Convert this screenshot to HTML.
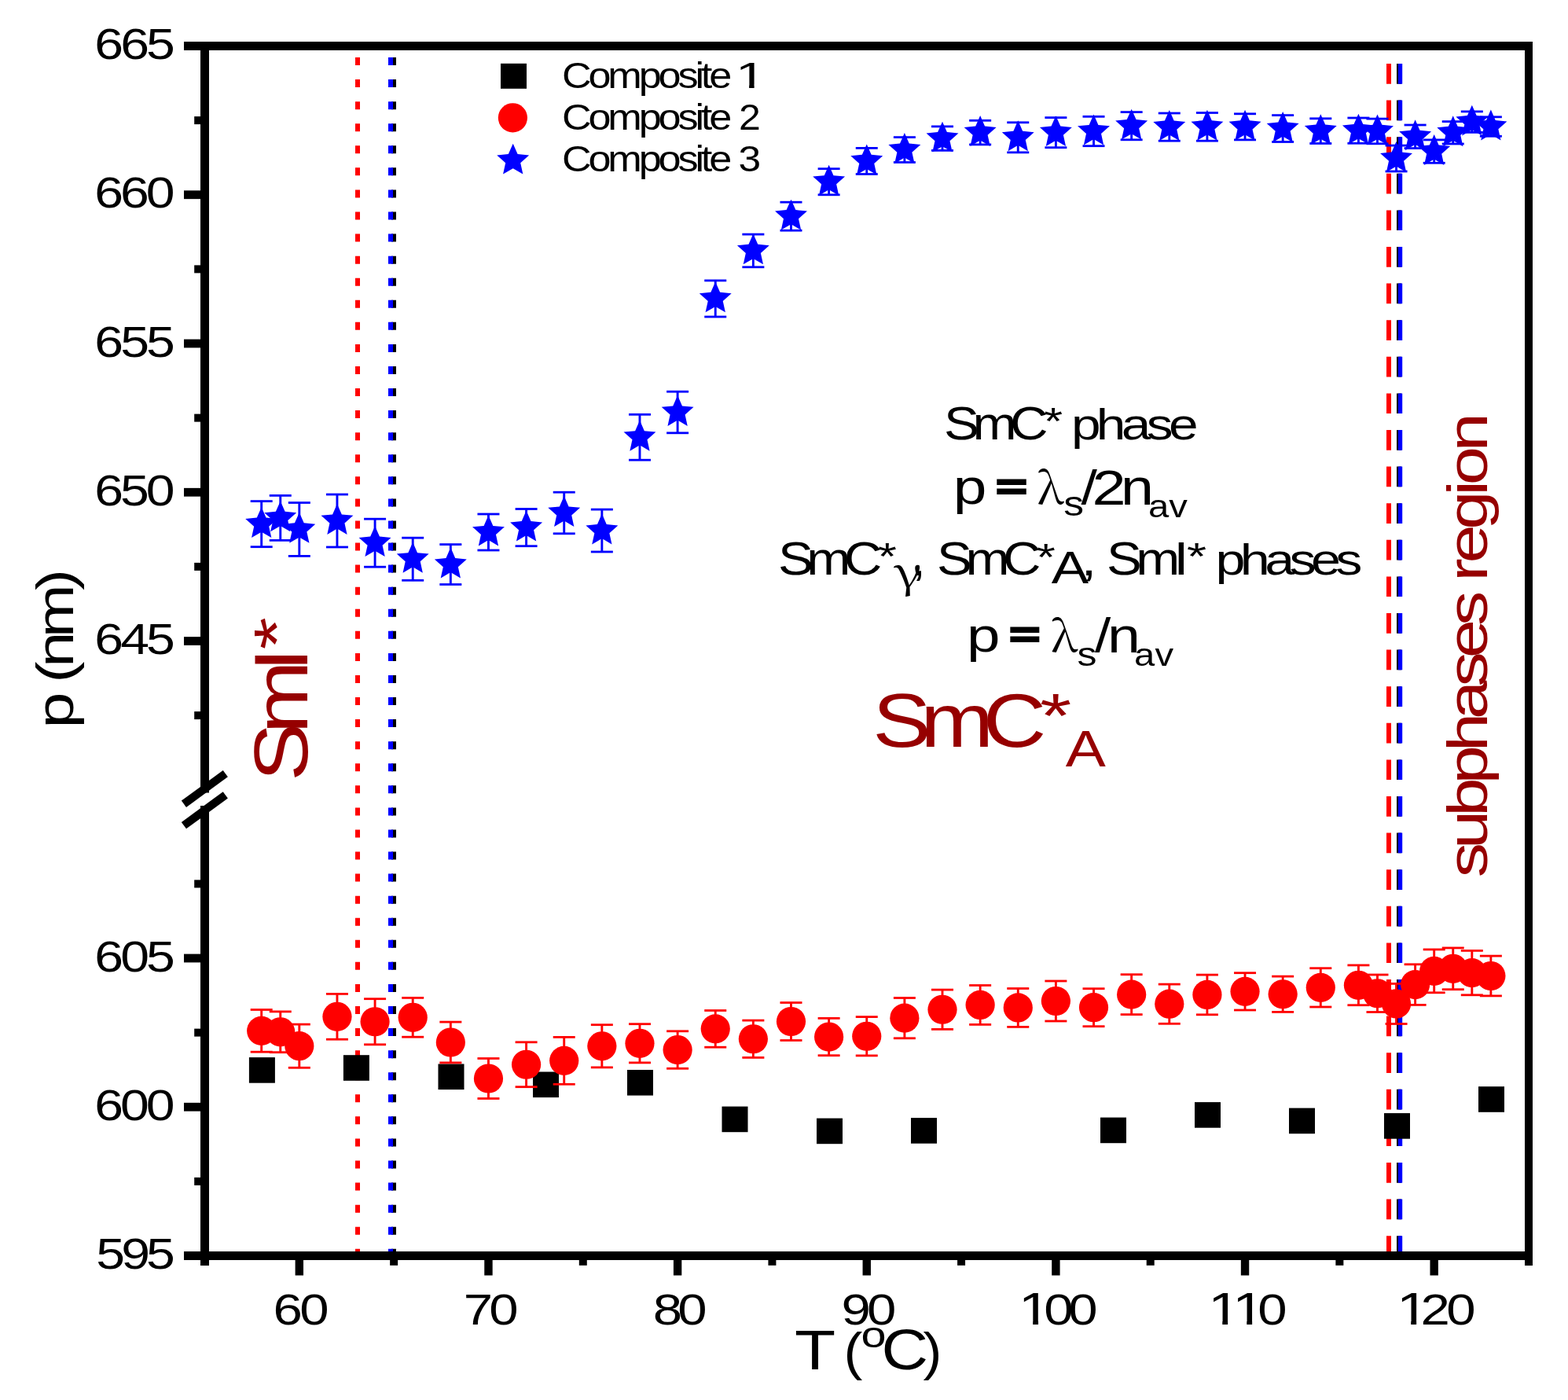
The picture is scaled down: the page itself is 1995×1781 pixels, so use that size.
<!DOCTYPE html>
<html><head><meta charset="utf-8"><title>p vs T</title>
<style>html,body{margin:0;padding:0;background:#fff;} svg{display:block;}</style>
</head><body>
<svg width="1995" height="1781" viewBox="0 0 1995 1781">
<rect x="0" y="0" width="1995" height="1781" fill="#fff"/>
<line x1="501.0" y1="64" x2="501.0" y2="1592" stroke="#000" stroke-width="6" stroke-dasharray="10 18.07" stroke-dashoffset="-9"/>
<line x1="497.0" y1="64" x2="497.0" y2="1592" stroke="#0000ff" stroke-width="6" stroke-dasharray="10 18.07" stroke-dashoffset="-9"/>
<line x1="455.0" y1="64" x2="455.0" y2="1592" stroke="#ff0000" stroke-width="6" stroke-dasharray="10 18.07" stroke-dashoffset="-9"/>
<line x1="1780.0" y1="64" x2="1780.0" y2="1592" stroke="#000" stroke-width="6" stroke-dasharray="25.7 20.9" stroke-dashoffset="-17"/>
<line x1="1781.6" y1="64" x2="1781.6" y2="1592" stroke="#0000ff" stroke-width="5.2" stroke-dasharray="25.7 20.9" stroke-dashoffset="-17"/>
<line x1="1767.0" y1="64" x2="1767.0" y2="1592" stroke="#ff0000" stroke-width="6" stroke-dasharray="25.7 20.9" stroke-dashoffset="-17"/>
<rect x="234" y="53" width="1716" height="11" fill="#000"/>
<rect x="1940" y="53" width="10" height="1557" fill="#000"/>
<rect x="234" y="1592" width="1716" height="11" fill="#000"/>
<rect x="255" y="53" width="11" height="955.5" fill="#000"/>
<rect x="255" y="1025" width="11" height="585" fill="#000"/>
<rect x="234" y="242.35" width="22" height="10.8" fill="#000"/>
<rect x="234" y="431.60" width="22" height="10.8" fill="#000"/>
<rect x="234" y="620.85" width="22" height="10.8" fill="#000"/>
<rect x="234" y="810.10" width="22" height="10.8" fill="#000"/>
<rect x="234" y="1213.60" width="22" height="10.8" fill="#000"/>
<rect x="234" y="1402.85" width="22" height="10.8" fill="#000"/>
<rect x="247.2" y="148.12" width="9" height="10" fill="#000"/>
<rect x="247.2" y="337.38" width="9" height="10" fill="#000"/>
<rect x="247.2" y="526.62" width="9" height="10" fill="#000"/>
<rect x="247.2" y="715.88" width="9" height="10" fill="#000"/>
<rect x="247.2" y="905.12" width="9" height="10" fill="#000"/>
<rect x="247.2" y="1119.38" width="9" height="10" fill="#000"/>
<rect x="247.2" y="1308.62" width="9" height="10" fill="#000"/>
<rect x="247.2" y="1497.88" width="9" height="10" fill="#000"/>
<rect x="375.62" y="1600" width="10.4" height="22.5" fill="#000"/>
<rect x="616.26" y="1600" width="10.4" height="22.5" fill="#000"/>
<rect x="856.91" y="1600" width="10.4" height="22.5" fill="#000"/>
<rect x="1097.55" y="1600" width="10.4" height="22.5" fill="#000"/>
<rect x="1338.19" y="1600" width="10.4" height="22.5" fill="#000"/>
<rect x="1578.84" y="1600" width="10.4" height="22.5" fill="#000"/>
<rect x="1819.48" y="1600" width="10.4" height="22.5" fill="#000"/>
<rect x="496.14" y="1600" width="10" height="9.8" fill="#000"/>
<rect x="736.79" y="1600" width="10" height="9.8" fill="#000"/>
<rect x="977.43" y="1600" width="10" height="9.8" fill="#000"/>
<rect x="1218.07" y="1600" width="10" height="9.8" fill="#000"/>
<rect x="1458.71" y="1600" width="10" height="9.8" fill="#000"/>
<rect x="1699.36" y="1600" width="10" height="9.8" fill="#000"/>
<line x1="233.9" y1="1022.8" x2="286.8" y2="984.1" stroke="#000" stroke-width="10.4"/>
<line x1="233.9" y1="1050.1" x2="286.8" y2="1011.4" stroke="#000" stroke-width="10.4"/>
<rect x="316.90" y="1345.10" width="33" height="32.6" fill="#000"/>
<rect x="436.90" y="1342.20" width="33" height="32.6" fill="#000"/>
<rect x="557.50" y="1353.50" width="33" height="32.6" fill="#000"/>
<rect x="678.00" y="1363.50" width="33" height="32.6" fill="#000"/>
<rect x="798.00" y="1361.00" width="33" height="32.6" fill="#000"/>
<rect x="918.50" y="1407.60" width="33" height="32.6" fill="#000"/>
<rect x="1039.00" y="1422.60" width="33" height="32.6" fill="#000"/>
<rect x="1159.00" y="1422.10" width="33" height="32.6" fill="#000"/>
<rect x="1400.00" y="1421.60" width="33" height="32.6" fill="#000"/>
<rect x="1520.00" y="1402.10" width="33" height="32.6" fill="#000"/>
<rect x="1640.00" y="1409.60" width="33" height="32.6" fill="#000"/>
<rect x="1761.00" y="1416.10" width="33" height="32.6" fill="#000"/>
<rect x="1881.00" y="1382.20" width="33" height="32.6" fill="#000"/>
<line x1="332.69" y1="1284.50" x2="332.69" y2="1338.20" stroke="#ff0000" stroke-width="2.9"/>
<line x1="318.69" y1="1284.50" x2="346.69" y2="1284.50" stroke="#ff0000" stroke-width="2.8"/>
<line x1="318.69" y1="1338.20" x2="346.69" y2="1338.20" stroke="#ff0000" stroke-width="2.8"/>
<circle cx="332.69" cy="1311.35" r="18.6" fill="#ff0000"/>
<line x1="356.76" y1="1286.90" x2="356.76" y2="1338.70" stroke="#ff0000" stroke-width="2.9"/>
<line x1="342.76" y1="1286.90" x2="370.76" y2="1286.90" stroke="#ff0000" stroke-width="2.8"/>
<line x1="342.76" y1="1338.70" x2="370.76" y2="1338.70" stroke="#ff0000" stroke-width="2.8"/>
<circle cx="356.76" cy="1312.80" r="18.6" fill="#ff0000"/>
<line x1="380.82" y1="1303.10" x2="380.82" y2="1358.30" stroke="#ff0000" stroke-width="2.9"/>
<line x1="366.82" y1="1303.10" x2="394.82" y2="1303.10" stroke="#ff0000" stroke-width="2.8"/>
<line x1="366.82" y1="1358.30" x2="394.82" y2="1358.30" stroke="#ff0000" stroke-width="2.8"/>
<circle cx="380.82" cy="1330.70" r="18.6" fill="#ff0000"/>
<line x1="428.95" y1="1264.40" x2="428.95" y2="1322.20" stroke="#ff0000" stroke-width="2.9"/>
<line x1="414.95" y1="1264.40" x2="442.95" y2="1264.40" stroke="#ff0000" stroke-width="2.8"/>
<line x1="414.95" y1="1322.20" x2="442.95" y2="1322.20" stroke="#ff0000" stroke-width="2.8"/>
<circle cx="428.95" cy="1293.30" r="18.6" fill="#ff0000"/>
<line x1="477.08" y1="1270.70" x2="477.08" y2="1328.80" stroke="#ff0000" stroke-width="2.9"/>
<line x1="463.08" y1="1270.70" x2="491.08" y2="1270.70" stroke="#ff0000" stroke-width="2.8"/>
<line x1="463.08" y1="1328.80" x2="491.08" y2="1328.80" stroke="#ff0000" stroke-width="2.8"/>
<circle cx="477.08" cy="1299.75" r="18.6" fill="#ff0000"/>
<line x1="525.21" y1="1269.40" x2="525.21" y2="1319.20" stroke="#ff0000" stroke-width="2.9"/>
<line x1="511.21" y1="1269.40" x2="539.21" y2="1269.40" stroke="#ff0000" stroke-width="2.8"/>
<line x1="511.21" y1="1319.20" x2="539.21" y2="1319.20" stroke="#ff0000" stroke-width="2.8"/>
<circle cx="525.21" cy="1294.30" r="18.6" fill="#ff0000"/>
<line x1="573.34" y1="1300.10" x2="573.34" y2="1351.90" stroke="#ff0000" stroke-width="2.9"/>
<line x1="559.34" y1="1300.10" x2="587.34" y2="1300.10" stroke="#ff0000" stroke-width="2.8"/>
<line x1="559.34" y1="1351.90" x2="587.34" y2="1351.90" stroke="#ff0000" stroke-width="2.8"/>
<circle cx="573.34" cy="1326.00" r="18.6" fill="#ff0000"/>
<line x1="621.46" y1="1346.50" x2="621.46" y2="1397.50" stroke="#ff0000" stroke-width="2.9"/>
<line x1="607.46" y1="1346.50" x2="635.46" y2="1346.50" stroke="#ff0000" stroke-width="2.8"/>
<line x1="607.46" y1="1397.50" x2="635.46" y2="1397.50" stroke="#ff0000" stroke-width="2.8"/>
<circle cx="621.46" cy="1372.00" r="18.6" fill="#ff0000"/>
<line x1="669.59" y1="1325.80" x2="669.59" y2="1382.70" stroke="#ff0000" stroke-width="2.9"/>
<line x1="655.59" y1="1325.80" x2="683.59" y2="1325.80" stroke="#ff0000" stroke-width="2.8"/>
<line x1="655.59" y1="1382.70" x2="683.59" y2="1382.70" stroke="#ff0000" stroke-width="2.8"/>
<circle cx="669.59" cy="1354.25" r="18.6" fill="#ff0000"/>
<line x1="717.72" y1="1319.40" x2="717.72" y2="1379.30" stroke="#ff0000" stroke-width="2.9"/>
<line x1="703.72" y1="1319.40" x2="731.72" y2="1319.40" stroke="#ff0000" stroke-width="2.8"/>
<line x1="703.72" y1="1379.30" x2="731.72" y2="1379.30" stroke="#ff0000" stroke-width="2.8"/>
<circle cx="717.72" cy="1349.35" r="18.6" fill="#ff0000"/>
<line x1="765.85" y1="1303.70" x2="765.85" y2="1357.90" stroke="#ff0000" stroke-width="2.9"/>
<line x1="751.85" y1="1303.70" x2="779.85" y2="1303.70" stroke="#ff0000" stroke-width="2.8"/>
<line x1="751.85" y1="1357.90" x2="779.85" y2="1357.90" stroke="#ff0000" stroke-width="2.8"/>
<circle cx="765.85" cy="1330.80" r="18.6" fill="#ff0000"/>
<line x1="813.98" y1="1302.70" x2="813.98" y2="1351.90" stroke="#ff0000" stroke-width="2.9"/>
<line x1="799.98" y1="1302.70" x2="827.98" y2="1302.70" stroke="#ff0000" stroke-width="2.8"/>
<line x1="799.98" y1="1351.90" x2="827.98" y2="1351.90" stroke="#ff0000" stroke-width="2.8"/>
<circle cx="813.98" cy="1327.30" r="18.6" fill="#ff0000"/>
<line x1="862.11" y1="1311.80" x2="862.11" y2="1359.30" stroke="#ff0000" stroke-width="2.9"/>
<line x1="848.11" y1="1311.80" x2="876.11" y2="1311.80" stroke="#ff0000" stroke-width="2.8"/>
<line x1="848.11" y1="1359.30" x2="876.11" y2="1359.30" stroke="#ff0000" stroke-width="2.8"/>
<circle cx="862.11" cy="1335.55" r="18.6" fill="#ff0000"/>
<line x1="910.24" y1="1285.50" x2="910.24" y2="1332.20" stroke="#ff0000" stroke-width="2.9"/>
<line x1="896.24" y1="1285.50" x2="924.24" y2="1285.50" stroke="#ff0000" stroke-width="2.8"/>
<line x1="896.24" y1="1332.20" x2="924.24" y2="1332.20" stroke="#ff0000" stroke-width="2.8"/>
<circle cx="910.24" cy="1308.85" r="18.6" fill="#ff0000"/>
<line x1="958.36" y1="1298.10" x2="958.36" y2="1345.40" stroke="#ff0000" stroke-width="2.9"/>
<line x1="944.36" y1="1298.10" x2="972.36" y2="1298.10" stroke="#ff0000" stroke-width="2.8"/>
<line x1="944.36" y1="1345.40" x2="972.36" y2="1345.40" stroke="#ff0000" stroke-width="2.8"/>
<circle cx="958.36" cy="1321.75" r="18.6" fill="#ff0000"/>
<line x1="1006.49" y1="1275.50" x2="1006.49" y2="1323.50" stroke="#ff0000" stroke-width="2.9"/>
<line x1="992.49" y1="1275.50" x2="1020.49" y2="1275.50" stroke="#ff0000" stroke-width="2.8"/>
<line x1="992.49" y1="1323.50" x2="1020.49" y2="1323.50" stroke="#ff0000" stroke-width="2.8"/>
<circle cx="1006.49" cy="1299.50" r="18.6" fill="#ff0000"/>
<line x1="1054.62" y1="1295.40" x2="1054.62" y2="1342.70" stroke="#ff0000" stroke-width="2.9"/>
<line x1="1040.62" y1="1295.40" x2="1068.62" y2="1295.40" stroke="#ff0000" stroke-width="2.8"/>
<line x1="1040.62" y1="1342.70" x2="1068.62" y2="1342.70" stroke="#ff0000" stroke-width="2.8"/>
<circle cx="1054.62" cy="1319.05" r="18.6" fill="#ff0000"/>
<line x1="1102.75" y1="1293.60" x2="1102.75" y2="1342.90" stroke="#ff0000" stroke-width="2.9"/>
<line x1="1088.75" y1="1293.60" x2="1116.75" y2="1293.60" stroke="#ff0000" stroke-width="2.8"/>
<line x1="1088.75" y1="1342.90" x2="1116.75" y2="1342.90" stroke="#ff0000" stroke-width="2.8"/>
<circle cx="1102.75" cy="1318.25" r="18.6" fill="#ff0000"/>
<line x1="1150.88" y1="1269.50" x2="1150.88" y2="1320.80" stroke="#ff0000" stroke-width="2.9"/>
<line x1="1136.88" y1="1269.50" x2="1164.88" y2="1269.50" stroke="#ff0000" stroke-width="2.8"/>
<line x1="1136.88" y1="1320.80" x2="1164.88" y2="1320.80" stroke="#ff0000" stroke-width="2.8"/>
<circle cx="1150.88" cy="1295.15" r="18.6" fill="#ff0000"/>
<line x1="1199.01" y1="1259.10" x2="1199.01" y2="1309.40" stroke="#ff0000" stroke-width="2.9"/>
<line x1="1185.01" y1="1259.10" x2="1213.01" y2="1259.10" stroke="#ff0000" stroke-width="2.8"/>
<line x1="1185.01" y1="1309.40" x2="1213.01" y2="1309.40" stroke="#ff0000" stroke-width="2.8"/>
<circle cx="1199.01" cy="1284.25" r="18.6" fill="#ff0000"/>
<line x1="1247.14" y1="1253.50" x2="1247.14" y2="1303.40" stroke="#ff0000" stroke-width="2.9"/>
<line x1="1233.14" y1="1253.50" x2="1261.14" y2="1253.50" stroke="#ff0000" stroke-width="2.8"/>
<line x1="1233.14" y1="1303.40" x2="1261.14" y2="1303.40" stroke="#ff0000" stroke-width="2.8"/>
<circle cx="1247.14" cy="1278.45" r="18.6" fill="#ff0000"/>
<line x1="1295.26" y1="1257.50" x2="1295.26" y2="1306.40" stroke="#ff0000" stroke-width="2.9"/>
<line x1="1281.26" y1="1257.50" x2="1309.26" y2="1257.50" stroke="#ff0000" stroke-width="2.8"/>
<line x1="1281.26" y1="1306.40" x2="1309.26" y2="1306.40" stroke="#ff0000" stroke-width="2.8"/>
<circle cx="1295.26" cy="1281.95" r="18.6" fill="#ff0000"/>
<line x1="1343.39" y1="1248.00" x2="1343.39" y2="1299.00" stroke="#ff0000" stroke-width="2.9"/>
<line x1="1329.39" y1="1248.00" x2="1357.39" y2="1248.00" stroke="#ff0000" stroke-width="2.8"/>
<line x1="1329.39" y1="1299.00" x2="1357.39" y2="1299.00" stroke="#ff0000" stroke-width="2.8"/>
<circle cx="1343.39" cy="1273.50" r="18.6" fill="#ff0000"/>
<line x1="1391.52" y1="1257.70" x2="1391.52" y2="1305.70" stroke="#ff0000" stroke-width="2.9"/>
<line x1="1377.52" y1="1257.70" x2="1405.52" y2="1257.70" stroke="#ff0000" stroke-width="2.8"/>
<line x1="1377.52" y1="1305.70" x2="1405.52" y2="1305.70" stroke="#ff0000" stroke-width="2.8"/>
<circle cx="1391.52" cy="1281.70" r="18.6" fill="#ff0000"/>
<line x1="1439.65" y1="1239.70" x2="1439.65" y2="1290.60" stroke="#ff0000" stroke-width="2.9"/>
<line x1="1425.65" y1="1239.70" x2="1453.65" y2="1239.70" stroke="#ff0000" stroke-width="2.8"/>
<line x1="1425.65" y1="1290.60" x2="1453.65" y2="1290.60" stroke="#ff0000" stroke-width="2.8"/>
<circle cx="1439.65" cy="1265.15" r="18.6" fill="#ff0000"/>
<line x1="1487.78" y1="1252.10" x2="1487.78" y2="1302.30" stroke="#ff0000" stroke-width="2.9"/>
<line x1="1473.78" y1="1252.10" x2="1501.78" y2="1252.10" stroke="#ff0000" stroke-width="2.8"/>
<line x1="1473.78" y1="1302.30" x2="1501.78" y2="1302.30" stroke="#ff0000" stroke-width="2.8"/>
<circle cx="1487.78" cy="1277.20" r="18.6" fill="#ff0000"/>
<line x1="1535.91" y1="1240.10" x2="1535.91" y2="1290.80" stroke="#ff0000" stroke-width="2.9"/>
<line x1="1521.91" y1="1240.10" x2="1549.91" y2="1240.10" stroke="#ff0000" stroke-width="2.8"/>
<line x1="1521.91" y1="1290.80" x2="1549.91" y2="1290.80" stroke="#ff0000" stroke-width="2.8"/>
<circle cx="1535.91" cy="1265.45" r="18.6" fill="#ff0000"/>
<line x1="1584.04" y1="1237.70" x2="1584.04" y2="1285.00" stroke="#ff0000" stroke-width="2.9"/>
<line x1="1570.04" y1="1237.70" x2="1598.04" y2="1237.70" stroke="#ff0000" stroke-width="2.8"/>
<line x1="1570.04" y1="1285.00" x2="1598.04" y2="1285.00" stroke="#ff0000" stroke-width="2.8"/>
<circle cx="1584.04" cy="1261.35" r="18.6" fill="#ff0000"/>
<line x1="1632.16" y1="1242.10" x2="1632.16" y2="1287.40" stroke="#ff0000" stroke-width="2.9"/>
<line x1="1618.16" y1="1242.10" x2="1646.16" y2="1242.10" stroke="#ff0000" stroke-width="2.8"/>
<line x1="1618.16" y1="1287.40" x2="1646.16" y2="1287.40" stroke="#ff0000" stroke-width="2.8"/>
<circle cx="1632.16" cy="1264.75" r="18.6" fill="#ff0000"/>
<line x1="1680.29" y1="1231.70" x2="1680.29" y2="1281.00" stroke="#ff0000" stroke-width="2.9"/>
<line x1="1666.29" y1="1231.70" x2="1694.29" y2="1231.70" stroke="#ff0000" stroke-width="2.8"/>
<line x1="1666.29" y1="1281.00" x2="1694.29" y2="1281.00" stroke="#ff0000" stroke-width="2.8"/>
<circle cx="1680.29" cy="1256.35" r="18.6" fill="#ff0000"/>
<line x1="1728.42" y1="1227.90" x2="1728.42" y2="1278.70" stroke="#ff0000" stroke-width="2.9"/>
<line x1="1714.42" y1="1227.90" x2="1742.42" y2="1227.90" stroke="#ff0000" stroke-width="2.8"/>
<line x1="1714.42" y1="1278.70" x2="1742.42" y2="1278.70" stroke="#ff0000" stroke-width="2.8"/>
<circle cx="1728.42" cy="1253.30" r="18.6" fill="#ff0000"/>
<line x1="1752.49" y1="1240.00" x2="1752.49" y2="1287.50" stroke="#ff0000" stroke-width="2.9"/>
<line x1="1738.49" y1="1240.00" x2="1766.49" y2="1240.00" stroke="#ff0000" stroke-width="2.8"/>
<line x1="1738.49" y1="1287.50" x2="1766.49" y2="1287.50" stroke="#ff0000" stroke-width="2.8"/>
<circle cx="1752.49" cy="1263.75" r="18.6" fill="#ff0000"/>
<line x1="1776.55" y1="1251.40" x2="1776.55" y2="1302.50" stroke="#ff0000" stroke-width="2.9"/>
<line x1="1762.55" y1="1251.40" x2="1790.55" y2="1251.40" stroke="#ff0000" stroke-width="2.8"/>
<line x1="1762.55" y1="1302.50" x2="1790.55" y2="1302.50" stroke="#ff0000" stroke-width="2.8"/>
<circle cx="1776.55" cy="1276.95" r="18.6" fill="#ff0000"/>
<line x1="1800.61" y1="1226.80" x2="1800.61" y2="1278.40" stroke="#ff0000" stroke-width="2.9"/>
<line x1="1786.61" y1="1226.80" x2="1814.61" y2="1226.80" stroke="#ff0000" stroke-width="2.8"/>
<line x1="1786.61" y1="1278.40" x2="1814.61" y2="1278.40" stroke="#ff0000" stroke-width="2.8"/>
<circle cx="1800.61" cy="1252.60" r="18.6" fill="#ff0000"/>
<line x1="1824.68" y1="1207.90" x2="1824.68" y2="1262.80" stroke="#ff0000" stroke-width="2.9"/>
<line x1="1810.68" y1="1207.90" x2="1838.68" y2="1207.90" stroke="#ff0000" stroke-width="2.8"/>
<line x1="1810.68" y1="1262.80" x2="1838.68" y2="1262.80" stroke="#ff0000" stroke-width="2.8"/>
<circle cx="1824.68" cy="1235.35" r="18.6" fill="#ff0000"/>
<line x1="1848.74" y1="1205.90" x2="1848.74" y2="1258.70" stroke="#ff0000" stroke-width="2.9"/>
<line x1="1834.74" y1="1205.90" x2="1862.74" y2="1205.90" stroke="#ff0000" stroke-width="2.8"/>
<line x1="1834.74" y1="1258.70" x2="1862.74" y2="1258.70" stroke="#ff0000" stroke-width="2.8"/>
<circle cx="1848.74" cy="1232.30" r="18.6" fill="#ff0000"/>
<line x1="1872.81" y1="1209.40" x2="1872.81" y2="1265.80" stroke="#ff0000" stroke-width="2.9"/>
<line x1="1858.81" y1="1209.40" x2="1886.81" y2="1209.40" stroke="#ff0000" stroke-width="2.8"/>
<line x1="1858.81" y1="1265.80" x2="1886.81" y2="1265.80" stroke="#ff0000" stroke-width="2.8"/>
<circle cx="1872.81" cy="1237.60" r="18.6" fill="#ff0000"/>
<line x1="1896.87" y1="1216.10" x2="1896.87" y2="1266.90" stroke="#ff0000" stroke-width="2.9"/>
<line x1="1882.87" y1="1216.10" x2="1910.87" y2="1216.10" stroke="#ff0000" stroke-width="2.8"/>
<line x1="1882.87" y1="1266.90" x2="1910.87" y2="1266.90" stroke="#ff0000" stroke-width="2.8"/>
<circle cx="1896.87" cy="1241.50" r="18.6" fill="#ff0000"/>
<line x1="332.69" y1="637.60" x2="332.69" y2="695.70" stroke="#0000ff" stroke-width="2.9"/>
<line x1="318.69" y1="637.60" x2="346.69" y2="637.60" stroke="#0000ff" stroke-width="2.8"/>
<line x1="318.69" y1="695.70" x2="346.69" y2="695.70" stroke="#0000ff" stroke-width="2.8"/>
<polygon points="332.69,645.15 338.57,658.56 353.14,660.01 342.20,669.74 345.33,684.04 332.69,676.65 320.06,684.04 323.18,669.74 312.25,660.01 326.82,658.56" fill="#0000ff"/>
<line x1="356.76" y1="630.40" x2="356.76" y2="687.40" stroke="#0000ff" stroke-width="2.9"/>
<line x1="342.76" y1="630.40" x2="370.76" y2="630.40" stroke="#0000ff" stroke-width="2.8"/>
<line x1="342.76" y1="687.40" x2="370.76" y2="687.40" stroke="#0000ff" stroke-width="2.8"/>
<polygon points="356.76,637.40 362.63,650.81 377.20,652.26 366.27,661.99 369.39,676.29 356.76,668.90 344.12,676.29 347.25,661.99 336.31,652.26 350.88,650.81" fill="#0000ff"/>
<line x1="380.82" y1="639.50" x2="380.82" y2="707.40" stroke="#0000ff" stroke-width="2.9"/>
<line x1="366.82" y1="639.50" x2="394.82" y2="639.50" stroke="#0000ff" stroke-width="2.8"/>
<line x1="366.82" y1="707.40" x2="394.82" y2="707.40" stroke="#0000ff" stroke-width="2.8"/>
<polygon points="380.82,651.95 386.70,665.36 401.27,666.81 390.33,676.54 393.46,690.84 380.82,683.45 368.18,690.84 371.31,676.54 360.37,666.81 374.94,665.36" fill="#0000ff"/>
<line x1="428.95" y1="629.00" x2="428.95" y2="696.00" stroke="#0000ff" stroke-width="2.9"/>
<line x1="414.95" y1="629.00" x2="442.95" y2="629.00" stroke="#0000ff" stroke-width="2.8"/>
<line x1="414.95" y1="696.00" x2="442.95" y2="696.00" stroke="#0000ff" stroke-width="2.8"/>
<polygon points="428.95,641.00 434.83,654.41 449.40,655.86 438.46,665.59 441.59,679.89 428.95,672.50 416.31,679.89 419.44,665.59 408.50,655.86 423.07,654.41" fill="#0000ff"/>
<line x1="477.08" y1="660.20" x2="477.08" y2="721.20" stroke="#0000ff" stroke-width="2.9"/>
<line x1="463.08" y1="660.20" x2="491.08" y2="660.20" stroke="#0000ff" stroke-width="2.8"/>
<line x1="463.08" y1="721.20" x2="491.08" y2="721.20" stroke="#0000ff" stroke-width="2.8"/>
<polygon points="477.08,669.20 482.96,682.61 497.53,684.06 486.59,693.79 489.72,708.09 477.08,700.70 464.44,708.09 467.57,693.79 456.63,684.06 471.20,682.61" fill="#0000ff"/>
<line x1="525.21" y1="684.20" x2="525.21" y2="738.30" stroke="#0000ff" stroke-width="2.9"/>
<line x1="511.21" y1="684.20" x2="539.21" y2="684.20" stroke="#0000ff" stroke-width="2.8"/>
<line x1="511.21" y1="738.30" x2="539.21" y2="738.30" stroke="#0000ff" stroke-width="2.8"/>
<polygon points="525.21,689.75 531.08,703.16 545.65,704.61 534.72,714.34 537.84,728.64 525.21,721.25 512.57,728.64 515.70,714.34 504.76,704.61 519.33,703.16" fill="#0000ff"/>
<line x1="573.34" y1="692.60" x2="573.34" y2="743.50" stroke="#0000ff" stroke-width="2.9"/>
<line x1="559.34" y1="692.60" x2="587.34" y2="692.60" stroke="#0000ff" stroke-width="2.8"/>
<line x1="559.34" y1="743.50" x2="587.34" y2="743.50" stroke="#0000ff" stroke-width="2.8"/>
<polygon points="573.34,696.55 579.21,709.96 593.78,711.41 582.85,721.14 585.97,735.44 573.34,728.05 560.70,735.44 563.83,721.14 552.89,711.41 567.46,709.96" fill="#0000ff"/>
<line x1="621.46" y1="654.00" x2="621.46" y2="700.00" stroke="#0000ff" stroke-width="2.9"/>
<line x1="607.46" y1="654.00" x2="635.46" y2="654.00" stroke="#0000ff" stroke-width="2.8"/>
<line x1="607.46" y1="700.00" x2="635.46" y2="700.00" stroke="#0000ff" stroke-width="2.8"/>
<polygon points="621.46,655.50 627.34,668.91 641.91,670.36 630.97,680.09 634.10,694.39 621.46,687.00 608.83,694.39 611.95,680.09 601.02,670.36 615.59,668.91" fill="#0000ff"/>
<line x1="669.59" y1="647.50" x2="669.59" y2="694.70" stroke="#0000ff" stroke-width="2.9"/>
<line x1="655.59" y1="647.50" x2="683.59" y2="647.50" stroke="#0000ff" stroke-width="2.8"/>
<line x1="655.59" y1="694.70" x2="683.59" y2="694.70" stroke="#0000ff" stroke-width="2.8"/>
<polygon points="669.59,649.60 675.47,663.01 690.04,664.46 679.10,674.19 682.23,688.49 669.59,681.10 656.96,688.49 660.08,674.19 649.15,664.46 663.72,663.01" fill="#0000ff"/>
<line x1="717.72" y1="626.20" x2="717.72" y2="678.80" stroke="#0000ff" stroke-width="2.9"/>
<line x1="703.72" y1="626.20" x2="731.72" y2="626.20" stroke="#0000ff" stroke-width="2.8"/>
<line x1="703.72" y1="678.80" x2="731.72" y2="678.80" stroke="#0000ff" stroke-width="2.8"/>
<polygon points="717.72,631.00 723.60,644.41 738.17,645.86 727.23,655.59 730.36,669.89 717.72,662.50 705.08,669.89 708.21,655.59 697.27,645.86 711.84,644.41" fill="#0000ff"/>
<line x1="765.85" y1="648.10" x2="765.85" y2="702.00" stroke="#0000ff" stroke-width="2.9"/>
<line x1="751.85" y1="648.10" x2="779.85" y2="648.10" stroke="#0000ff" stroke-width="2.8"/>
<line x1="751.85" y1="702.00" x2="779.85" y2="702.00" stroke="#0000ff" stroke-width="2.8"/>
<polygon points="765.85,653.55 771.73,666.96 786.30,668.41 775.36,678.14 778.49,692.44 765.85,685.05 753.21,692.44 756.34,678.14 745.40,668.41 759.97,666.96" fill="#0000ff"/>
<line x1="813.98" y1="527.30" x2="813.98" y2="585.20" stroke="#0000ff" stroke-width="2.9"/>
<line x1="799.98" y1="527.30" x2="827.98" y2="527.30" stroke="#0000ff" stroke-width="2.8"/>
<line x1="799.98" y1="585.20" x2="827.98" y2="585.20" stroke="#0000ff" stroke-width="2.8"/>
<polygon points="813.98,534.75 819.86,548.16 834.43,549.61 823.49,559.34 826.62,573.64 813.98,566.25 801.34,573.64 804.47,559.34 793.53,549.61 808.10,548.16" fill="#0000ff"/>
<line x1="862.11" y1="498.20" x2="862.11" y2="550.80" stroke="#0000ff" stroke-width="2.9"/>
<line x1="848.11" y1="498.20" x2="876.11" y2="498.20" stroke="#0000ff" stroke-width="2.8"/>
<line x1="848.11" y1="550.80" x2="876.11" y2="550.80" stroke="#0000ff" stroke-width="2.8"/>
<polygon points="862.11,503.00 867.98,516.41 882.55,517.86 871.62,527.59 874.74,541.89 862.11,534.50 849.47,541.89 852.60,527.59 841.66,517.86 856.23,516.41" fill="#0000ff"/>
<line x1="910.24" y1="356.90" x2="910.24" y2="403.00" stroke="#0000ff" stroke-width="2.9"/>
<line x1="896.24" y1="356.90" x2="924.24" y2="356.90" stroke="#0000ff" stroke-width="2.8"/>
<line x1="896.24" y1="403.00" x2="924.24" y2="403.00" stroke="#0000ff" stroke-width="2.8"/>
<polygon points="910.24,358.45 916.11,371.86 930.68,373.31 919.75,383.04 922.87,397.34 910.24,389.95 897.60,397.34 900.73,383.04 889.79,373.31 904.36,371.86" fill="#0000ff"/>
<line x1="958.36" y1="298.10" x2="958.36" y2="339.80" stroke="#0000ff" stroke-width="2.9"/>
<line x1="944.36" y1="298.10" x2="972.36" y2="298.10" stroke="#0000ff" stroke-width="2.8"/>
<line x1="944.36" y1="339.80" x2="972.36" y2="339.80" stroke="#0000ff" stroke-width="2.8"/>
<polygon points="958.36,297.45 964.24,310.86 978.81,312.31 967.87,322.04 971.00,336.34 958.36,328.95 945.73,336.34 948.85,322.04 937.92,312.31 952.49,310.86" fill="#0000ff"/>
<line x1="1006.49" y1="257.20" x2="1006.49" y2="293.20" stroke="#0000ff" stroke-width="2.9"/>
<line x1="992.49" y1="257.20" x2="1020.49" y2="257.20" stroke="#0000ff" stroke-width="2.8"/>
<line x1="992.49" y1="293.20" x2="1020.49" y2="293.20" stroke="#0000ff" stroke-width="2.8"/>
<polygon points="1006.49,253.70 1012.37,267.11 1026.94,268.56 1016.00,278.29 1019.13,292.59 1006.49,285.20 993.86,292.59 996.98,278.29 986.05,268.56 1000.62,267.11" fill="#0000ff"/>
<line x1="1054.62" y1="214.70" x2="1054.62" y2="247.80" stroke="#0000ff" stroke-width="2.9"/>
<line x1="1040.62" y1="214.70" x2="1068.62" y2="214.70" stroke="#0000ff" stroke-width="2.8"/>
<line x1="1040.62" y1="247.80" x2="1068.62" y2="247.80" stroke="#0000ff" stroke-width="2.8"/>
<polygon points="1054.62,209.75 1060.50,223.16 1075.07,224.61 1064.13,234.34 1067.26,248.64 1054.62,241.25 1041.98,248.64 1045.11,234.34 1034.17,224.61 1048.74,223.16" fill="#0000ff"/>
<line x1="1102.75" y1="188.40" x2="1102.75" y2="221.50" stroke="#0000ff" stroke-width="2.9"/>
<line x1="1088.75" y1="188.40" x2="1116.75" y2="188.40" stroke="#0000ff" stroke-width="2.8"/>
<line x1="1088.75" y1="221.50" x2="1116.75" y2="221.50" stroke="#0000ff" stroke-width="2.8"/>
<polygon points="1102.75,183.45 1108.63,196.86 1123.20,198.31 1112.26,208.04 1115.39,222.34 1102.75,214.95 1090.11,222.34 1093.24,208.04 1082.30,198.31 1096.87,196.86" fill="#0000ff"/>
<line x1="1150.88" y1="174.60" x2="1150.88" y2="206.50" stroke="#0000ff" stroke-width="2.9"/>
<line x1="1136.88" y1="174.60" x2="1164.88" y2="174.60" stroke="#0000ff" stroke-width="2.8"/>
<line x1="1136.88" y1="206.50" x2="1164.88" y2="206.50" stroke="#0000ff" stroke-width="2.8"/>
<polygon points="1150.88,169.05 1156.76,182.46 1171.33,183.91 1160.39,193.64 1163.52,207.94 1150.88,200.55 1138.24,207.94 1141.37,193.64 1130.43,183.91 1145.00,182.46" fill="#0000ff"/>
<line x1="1199.01" y1="160.90" x2="1199.01" y2="191.40" stroke="#0000ff" stroke-width="2.9"/>
<line x1="1185.01" y1="160.90" x2="1213.01" y2="160.90" stroke="#0000ff" stroke-width="2.8"/>
<line x1="1185.01" y1="191.40" x2="1213.01" y2="191.40" stroke="#0000ff" stroke-width="2.8"/>
<polygon points="1199.01,154.65 1204.88,168.06 1219.45,169.51 1208.52,179.24 1211.64,193.54 1199.01,186.15 1186.37,193.54 1189.50,179.24 1178.56,169.51 1193.13,168.06" fill="#0000ff"/>
<line x1="1247.14" y1="153.30" x2="1247.14" y2="183.90" stroke="#0000ff" stroke-width="2.9"/>
<line x1="1233.14" y1="153.30" x2="1261.14" y2="153.30" stroke="#0000ff" stroke-width="2.8"/>
<line x1="1233.14" y1="183.90" x2="1261.14" y2="183.90" stroke="#0000ff" stroke-width="2.8"/>
<polygon points="1247.14,147.10 1253.01,160.51 1267.58,161.96 1256.65,171.69 1259.77,185.99 1247.14,178.60 1234.50,185.99 1237.63,171.69 1226.69,161.96 1241.26,160.51" fill="#0000ff"/>
<line x1="1295.26" y1="155.80" x2="1295.26" y2="193.90" stroke="#0000ff" stroke-width="2.9"/>
<line x1="1281.26" y1="155.80" x2="1309.26" y2="155.80" stroke="#0000ff" stroke-width="2.8"/>
<line x1="1281.26" y1="193.90" x2="1309.26" y2="193.90" stroke="#0000ff" stroke-width="2.8"/>
<polygon points="1295.26,153.35 1301.14,166.76 1315.71,168.21 1304.77,177.94 1307.90,192.24 1295.26,184.85 1282.63,192.24 1285.75,177.94 1274.82,168.21 1289.39,166.76" fill="#0000ff"/>
<line x1="1343.39" y1="149.60" x2="1343.39" y2="187.70" stroke="#0000ff" stroke-width="2.9"/>
<line x1="1329.39" y1="149.60" x2="1357.39" y2="149.60" stroke="#0000ff" stroke-width="2.8"/>
<line x1="1329.39" y1="187.70" x2="1357.39" y2="187.70" stroke="#0000ff" stroke-width="2.8"/>
<polygon points="1343.39,147.15 1349.27,160.56 1363.84,162.01 1352.90,171.74 1356.03,186.04 1343.39,178.65 1330.76,186.04 1333.88,171.74 1322.95,162.01 1337.52,160.56" fill="#0000ff"/>
<line x1="1391.52" y1="148.30" x2="1391.52" y2="185.70" stroke="#0000ff" stroke-width="2.9"/>
<line x1="1377.52" y1="148.30" x2="1405.52" y2="148.30" stroke="#0000ff" stroke-width="2.8"/>
<line x1="1377.52" y1="185.70" x2="1405.52" y2="185.70" stroke="#0000ff" stroke-width="2.8"/>
<polygon points="1391.52,145.50 1397.40,158.91 1411.97,160.36 1401.03,170.09 1404.16,184.39 1391.52,177.00 1378.88,184.39 1382.01,170.09 1371.07,160.36 1385.64,158.91" fill="#0000ff"/>
<line x1="1439.65" y1="142.60" x2="1439.65" y2="177.80" stroke="#0000ff" stroke-width="2.9"/>
<line x1="1425.65" y1="142.60" x2="1453.65" y2="142.60" stroke="#0000ff" stroke-width="2.8"/>
<line x1="1425.65" y1="177.80" x2="1453.65" y2="177.80" stroke="#0000ff" stroke-width="2.8"/>
<polygon points="1439.65,138.70 1445.53,152.11 1460.10,153.56 1449.16,163.29 1452.29,177.59 1439.65,170.20 1427.01,177.59 1430.14,163.29 1419.20,153.56 1433.77,152.11" fill="#0000ff"/>
<line x1="1487.78" y1="144.00" x2="1487.78" y2="179.20" stroke="#0000ff" stroke-width="2.9"/>
<line x1="1473.78" y1="144.00" x2="1501.78" y2="144.00" stroke="#0000ff" stroke-width="2.8"/>
<line x1="1473.78" y1="179.20" x2="1501.78" y2="179.20" stroke="#0000ff" stroke-width="2.8"/>
<polygon points="1487.78,140.10 1493.66,153.51 1508.23,154.96 1497.29,164.69 1500.42,178.99 1487.78,171.60 1475.14,178.99 1478.27,164.69 1467.33,154.96 1481.90,153.51" fill="#0000ff"/>
<line x1="1535.91" y1="143.50" x2="1535.91" y2="179.20" stroke="#0000ff" stroke-width="2.9"/>
<line x1="1521.91" y1="143.50" x2="1549.91" y2="143.50" stroke="#0000ff" stroke-width="2.8"/>
<line x1="1521.91" y1="179.20" x2="1549.91" y2="179.20" stroke="#0000ff" stroke-width="2.8"/>
<polygon points="1535.91,139.85 1541.78,153.26 1556.35,154.71 1545.42,164.44 1548.54,178.74 1535.91,171.35 1523.27,178.74 1526.40,164.44 1515.46,154.71 1530.03,153.26" fill="#0000ff"/>
<line x1="1584.04" y1="144.80" x2="1584.04" y2="177.90" stroke="#0000ff" stroke-width="2.9"/>
<line x1="1570.04" y1="144.80" x2="1598.04" y2="144.80" stroke="#0000ff" stroke-width="2.8"/>
<line x1="1570.04" y1="177.90" x2="1598.04" y2="177.90" stroke="#0000ff" stroke-width="2.8"/>
<polygon points="1584.04,139.85 1589.91,153.26 1604.48,154.71 1593.55,164.44 1596.67,178.74 1584.04,171.35 1571.40,178.74 1574.53,164.44 1563.59,154.71 1578.16,153.26" fill="#0000ff"/>
<line x1="1632.16" y1="146.60" x2="1632.16" y2="180.50" stroke="#0000ff" stroke-width="2.9"/>
<line x1="1618.16" y1="146.60" x2="1646.16" y2="146.60" stroke="#0000ff" stroke-width="2.8"/>
<line x1="1618.16" y1="180.50" x2="1646.16" y2="180.50" stroke="#0000ff" stroke-width="2.8"/>
<polygon points="1632.16,142.05 1638.04,155.46 1652.61,156.91 1641.67,166.64 1644.80,180.94 1632.16,173.55 1619.53,180.94 1622.65,166.64 1611.72,156.91 1626.29,155.46" fill="#0000ff"/>
<line x1="1680.29" y1="150.80" x2="1680.29" y2="182.50" stroke="#0000ff" stroke-width="2.9"/>
<line x1="1666.29" y1="150.80" x2="1694.29" y2="150.80" stroke="#0000ff" stroke-width="2.8"/>
<line x1="1666.29" y1="182.50" x2="1694.29" y2="182.50" stroke="#0000ff" stroke-width="2.8"/>
<polygon points="1680.29,145.15 1686.17,158.56 1700.74,160.01 1689.80,169.74 1692.93,184.04 1680.29,176.65 1667.66,184.04 1670.78,169.74 1659.85,160.01 1674.42,158.56" fill="#0000ff"/>
<line x1="1728.42" y1="150.00" x2="1728.42" y2="182.30" stroke="#0000ff" stroke-width="2.9"/>
<line x1="1714.42" y1="150.00" x2="1742.42" y2="150.00" stroke="#0000ff" stroke-width="2.8"/>
<line x1="1714.42" y1="182.30" x2="1742.42" y2="182.30" stroke="#0000ff" stroke-width="2.8"/>
<polygon points="1728.42,144.65 1734.30,158.06 1748.87,159.51 1737.93,169.24 1741.06,183.54 1728.42,176.15 1715.78,183.54 1718.91,169.24 1707.97,159.51 1722.54,158.06" fill="#0000ff"/>
<line x1="1752.49" y1="151.10" x2="1752.49" y2="182.80" stroke="#0000ff" stroke-width="2.9"/>
<line x1="1738.49" y1="151.10" x2="1766.49" y2="151.10" stroke="#0000ff" stroke-width="2.8"/>
<line x1="1738.49" y1="182.80" x2="1766.49" y2="182.80" stroke="#0000ff" stroke-width="2.8"/>
<polygon points="1752.49,145.45 1758.36,158.86 1772.93,160.31 1762.00,170.04 1765.12,184.34 1752.49,176.95 1739.85,184.34 1742.98,170.04 1732.04,160.31 1746.61,158.86" fill="#0000ff"/>
<line x1="1776.55" y1="185.10" x2="1776.55" y2="218.00" stroke="#0000ff" stroke-width="2.9"/>
<line x1="1762.55" y1="185.10" x2="1790.55" y2="185.10" stroke="#0000ff" stroke-width="2.8"/>
<line x1="1762.55" y1="218.00" x2="1790.55" y2="218.00" stroke="#0000ff" stroke-width="2.8"/>
<polygon points="1776.55,180.05 1782.43,193.46 1797.00,194.91 1786.06,204.64 1789.19,218.94 1776.55,211.55 1763.91,218.94 1767.04,204.64 1756.10,194.91 1770.67,193.46" fill="#0000ff"/>
<line x1="1800.61" y1="159.00" x2="1800.61" y2="188.60" stroke="#0000ff" stroke-width="2.9"/>
<line x1="1786.61" y1="159.00" x2="1814.61" y2="159.00" stroke="#0000ff" stroke-width="2.8"/>
<line x1="1786.61" y1="188.60" x2="1814.61" y2="188.60" stroke="#0000ff" stroke-width="2.8"/>
<polygon points="1800.61,152.30 1806.49,165.71 1821.06,167.16 1810.12,176.89 1813.25,191.19 1800.61,183.80 1787.98,191.19 1791.10,176.89 1780.17,167.16 1794.74,165.71" fill="#0000ff"/>
<line x1="1824.68" y1="177.90" x2="1824.68" y2="207.30" stroke="#0000ff" stroke-width="2.9"/>
<line x1="1810.68" y1="177.90" x2="1838.68" y2="177.90" stroke="#0000ff" stroke-width="2.8"/>
<line x1="1810.68" y1="207.30" x2="1838.68" y2="207.30" stroke="#0000ff" stroke-width="2.8"/>
<polygon points="1824.68,171.10 1830.56,184.51 1845.13,185.96 1834.19,195.69 1837.32,209.99 1824.68,202.60 1812.04,209.99 1815.17,195.69 1804.23,185.96 1818.80,184.51" fill="#0000ff"/>
<line x1="1848.74" y1="154.60" x2="1848.74" y2="183.00" stroke="#0000ff" stroke-width="2.9"/>
<line x1="1834.74" y1="154.60" x2="1862.74" y2="154.60" stroke="#0000ff" stroke-width="2.8"/>
<line x1="1834.74" y1="183.00" x2="1862.74" y2="183.00" stroke="#0000ff" stroke-width="2.8"/>
<polygon points="1848.74,147.30 1854.62,160.71 1869.19,162.16 1858.25,171.89 1861.38,186.19 1848.74,178.80 1836.11,186.19 1839.23,171.89 1828.30,162.16 1842.87,160.71" fill="#0000ff"/>
<line x1="1872.81" y1="141.90" x2="1872.81" y2="168.40" stroke="#0000ff" stroke-width="2.9"/>
<line x1="1858.81" y1="141.90" x2="1886.81" y2="141.90" stroke="#0000ff" stroke-width="2.8"/>
<line x1="1858.81" y1="168.40" x2="1886.81" y2="168.40" stroke="#0000ff" stroke-width="2.8"/>
<polygon points="1872.81,133.65 1878.68,147.06 1893.25,148.51 1882.32,158.24 1885.44,172.54 1872.81,165.15 1860.17,172.54 1863.30,158.24 1852.36,148.51 1866.93,147.06" fill="#0000ff"/>
<line x1="1896.87" y1="148.80" x2="1896.87" y2="173.30" stroke="#0000ff" stroke-width="2.9"/>
<line x1="1882.87" y1="148.80" x2="1910.87" y2="148.80" stroke="#0000ff" stroke-width="2.8"/>
<line x1="1882.87" y1="173.30" x2="1910.87" y2="173.30" stroke="#0000ff" stroke-width="2.8"/>
<polygon points="1896.87,139.55 1902.75,152.96 1917.32,154.41 1906.38,164.14 1909.51,178.44 1896.87,171.05 1884.23,178.44 1887.36,164.14 1876.42,154.41 1890.99,152.96" fill="#0000ff"/>
<rect x="637" y="80.8" width="33" height="32" fill="#000"/>
<circle cx="652.4" cy="149.8" r="18.6" fill="#ff0000"/>
<polygon points="652.70,182.70 658.58,196.11 673.15,197.56 662.21,207.29 665.34,221.59 652.70,214.20 640.06,221.59 643.19,207.29 632.25,197.56 646.82,196.11" fill="#0000ff"/>
<text transform="translate(714.94,111.60) scale(1.1500,1)" font-size="45.42" font-family='"Liberation Sans", Arial, sans-serif' fill="#000" style="letter-spacing:-3.62px">Composite</text>
<g transform="translate(935.67,111.60) scale(1.5356,1)"><clipPath id="c1_1"><rect x="-4.56" y="-36.51" width="36.51" height="32.59"/><rect x="11.36" y="-4.56" width="4.24" height="5.48"/></clipPath><text clip-path="url(#c1_1)" font-size="45.64" font-family='"Liberation Sans", Arial, sans-serif' fill="#000">1</text></g>
<text transform="translate(714.94,164.90) scale(1.1500,1)" font-size="45.42" font-family='"Liberation Sans", Arial, sans-serif' fill="#000" style="letter-spacing:-3.62px">Composite</text>
<text transform="translate(939.90,165.30) scale(1.0872,1)" font-size="45.99" font-family='"Liberation Sans", Arial, sans-serif' fill="#000">2</text>
<text transform="translate(714.94,218.20) scale(1.1500,1)" font-size="45.42" font-family='"Liberation Sans", Arial, sans-serif' fill="#000" style="letter-spacing:-3.62px">Composite</text>
<text transform="translate(939.44,218.15) scale(1.1354,1)" font-size="45.34" font-family='"Liberation Sans", Arial, sans-serif' fill="#000">3</text>
<text transform="translate(120.23,75.15) scale(1.2000,1)" font-size="55.08" font-family='"Liberation Sans", Arial, sans-serif' fill="#000" style="letter-spacing:-3.21px">665</text>
<text transform="translate(120.23,264.40) scale(1.2000,1)" font-size="55.08" font-family='"Liberation Sans", Arial, sans-serif' fill="#000" style="letter-spacing:-3.30px">660</text>
<text transform="translate(120.23,453.65) scale(1.2000,1)" font-size="55.08" font-family='"Liberation Sans", Arial, sans-serif' fill="#000" style="letter-spacing:-3.21px">655</text>
<text transform="translate(120.23,642.90) scale(1.2000,1)" font-size="55.08" font-family='"Liberation Sans", Arial, sans-serif' fill="#000" style="letter-spacing:-3.30px">650</text>
<text transform="translate(120.23,832.15) scale(1.2000,1)" font-size="55.08" font-family='"Liberation Sans", Arial, sans-serif' fill="#000" style="letter-spacing:-3.21px">645</text>
<text transform="translate(120.23,1235.65) scale(1.2000,1)" font-size="55.08" font-family='"Liberation Sans", Arial, sans-serif' fill="#000" style="letter-spacing:-3.21px">605</text>
<text transform="translate(120.23,1424.90) scale(1.2000,1)" font-size="55.08" font-family='"Liberation Sans", Arial, sans-serif' fill="#000" style="letter-spacing:-3.30px">600</text>
<text transform="translate(122.26,1614.15) scale(1.2000,1)" font-size="55.08" font-family='"Liberation Sans", Arial, sans-serif' fill="#000" style="letter-spacing:-4.06px">595</text>
<text transform="translate(347.48,1684.64) scale(1.2000,1)" font-size="55.93" font-family='"Liberation Sans", Arial, sans-serif' fill="#000" style="letter-spacing:-2.91px">60</text>
<text transform="translate(589.78,1684.64) scale(1.2000,1)" font-size="55.93" font-family='"Liberation Sans", Arial, sans-serif' fill="#000" style="letter-spacing:-4.00px">70</text>
<text transform="translate(830.71,1684.64) scale(1.2000,1)" font-size="55.93" font-family='"Liberation Sans", Arial, sans-serif' fill="#000" style="letter-spacing:-4.78px">80</text>
<text transform="translate(1070.45,1684.64) scale(1.2000,1)" font-size="55.93" font-family='"Liberation Sans", Arial, sans-serif' fill="#000" style="letter-spacing:-3.89px">90</text>
<g transform="translate(1295.82,1685.00) scale(1.3014,1)"><clipPath id="c1_2"><rect x="-5.67" y="-45.35" width="45.35" height="40.47"/><rect x="14.11" y="-5.67" width="5.27" height="6.80"/></clipPath><text clip-path="url(#c1_2)" font-size="56.69" font-family='"Liberation Sans", Arial, sans-serif' fill="#000">1</text></g>
<text transform="translate(1328.28,1684.64) scale(1.2000,1)" font-size="55.93" font-family='"Liberation Sans", Arial, sans-serif' fill="#000" style="letter-spacing:-5.33px">00</text>
<g transform="translate(1536.92,1685.00) scale(1.3014,1)"><clipPath id="c1_3"><rect x="-5.67" y="-45.35" width="45.35" height="40.47"/><rect x="14.11" y="-5.67" width="5.27" height="6.80"/></clipPath><text clip-path="url(#c1_3)" font-size="56.69" font-family='"Liberation Sans", Arial, sans-serif' fill="#000">1</text></g>
<g transform="translate(1567.92,1685.00) scale(1.3014,1)"><clipPath id="c1_4"><rect x="-5.67" y="-45.35" width="45.35" height="40.47"/><rect x="14.11" y="-5.67" width="5.27" height="6.80"/></clipPath><text clip-path="url(#c1_4)" font-size="56.69" font-family='"Liberation Sans", Arial, sans-serif' fill="#000">1</text></g>
<text transform="translate(1600.28,1684.64) scale(1.2006,1)" font-size="55.93" font-family='"Liberation Sans", Arial, sans-serif' fill="#000">0</text>
<g transform="translate(1776.64,1685.00) scale(1.3091,1)"><clipPath id="c1_5"><rect x="-5.70" y="-45.58" width="45.58" height="40.68"/><rect x="14.19" y="-5.70" width="5.30" height="6.84"/></clipPath><text clip-path="url(#c1_5)" font-size="56.98" font-family='"Liberation Sans", Arial, sans-serif' fill="#000">1</text></g>
<text transform="translate(1807.54,1684.64) scale(1.2000,1)" font-size="55.93" font-family='"Liberation Sans", Arial, sans-serif' fill="#000" style="letter-spacing:-3.80px">20</text>
<text transform="translate(93.00,926.49) rotate(-90) scale(1.2354,1)" font-size="66.91" font-family='"Liberation Sans", Arial, sans-serif' fill="#000">p</text>
<text transform="translate(93.00,868.66) rotate(-90) scale(1.2200,1)" font-size="66.91" font-family='"Liberation Sans", Arial, sans-serif' fill="#000" style="letter-spacing:-6.24px">(nm)</text>
<text transform="translate(1010.92,1741.90) scale(1.1982,1)" font-size="71.22" font-family='"Liberation Sans", Arial, sans-serif' fill="#000">T</text>
<text transform="translate(1073.55,1742.01) scale(1.0607,1)" font-size="67.60" font-family='"Liberation Sans", Arial, sans-serif' fill="#000">(</text>
<text transform="translate(1095.38,1713.54) scale(1.2632,1)" font-size="45.62" font-family='"Liberation Sans", Arial, sans-serif' fill="#000">o</text>
<text transform="translate(1121.59,1742.08) scale(1.1516,1)" font-size="71.61" font-family='"Liberation Sans", Arial, sans-serif' fill="#000">C</text>
<text transform="translate(1174.57,1742.01) scale(1.0607,1)" font-size="67.60" font-family='"Liberation Sans", Arial, sans-serif' fill="#000">)</text>
<text transform="translate(1200.97,558.70) scale(1.1500,1)" font-size="58.60" font-family='"Liberation Sans", Arial, sans-serif' fill="#000" style="letter-spacing:-7.41px">SmC</text>
<text transform="translate(1327.91,552.13) scale(1.2857,1)" font-size="48.15" font-family='"Liberation Sans", Arial, sans-serif' fill="#000">*</text>
<text transform="translate(1362.88,558.80) scale(1.2200,1)" font-size="55.39" font-family='"Liberation Sans", Arial, sans-serif' fill="#000" style="letter-spacing:-4.59px">phase</text>
<text transform="translate(1212.69,641.03) scale(1.2300,1)" font-size="62.33" font-family='"Liberation Sans", Arial, sans-serif' fill="#000">p</text>
<text transform="translate(1267.71,635.13) scale(1.3901,1)" font-size="47.52" font-family='"Liberation Sans", Arial, sans-serif' fill="#000" stroke="#000" stroke-width="3.90">=</text>
<text transform="translate(1319.76,641.16) scale(1.0376,1)" font-size="56.22" font-family='"Noto Serif CJK SC", "Liberation Serif", serif' fill="#000">λ</text>
<text transform="translate(1353.36,655.96) scale(1.1713,1)" font-size="44.06" font-family='"Liberation Sans", Arial, sans-serif' fill="#000">s</text>
<text transform="translate(1375.60,641.39) scale(1.1986,1)" font-size="61.22" font-family='"Liberation Sans", Arial, sans-serif' fill="#000">/</text>
<text transform="translate(1389.43,642.00) scale(1.2142,1)" font-size="63.75" font-family='"Liberation Sans", Arial, sans-serif' fill="#000">2</text>
<text transform="translate(1426.03,642.00) scale(1.1742,1)" font-size="64.13" font-family='"Liberation Sans", Arial, sans-serif' fill="#000">n</text>
<text transform="translate(1461.02,657.59) scale(1.1500,1)" font-size="41.06" font-family='"Liberation Sans", Arial, sans-serif' fill="#000">av</text>
<text transform="translate(989.97,730.90) scale(1.1500,1)" font-size="58.60" font-family='"Liberation Sans", Arial, sans-serif' fill="#000" style="letter-spacing:-7.54px">SmC</text>
<text transform="translate(1116.81,724.32) scale(1.2782,1)" font-size="48.43" font-family='"Liberation Sans", Arial, sans-serif' fill="#000">*</text>
<text transform="translate(1136.90,747.90) scale(1.2421,1)" font-size="54.61" font-family='"Noto Serif CJK SC", "Liberation Serif", serif' fill="#000">γ</text>
<text transform="translate(1160.49,731.79) scale(1.1510,1)" font-size="53.19" font-family='"Liberation Sans", Arial, sans-serif' fill="#000">,</text>
<text transform="translate(1191.98,731.00) scale(1.1500,1)" font-size="58.45" font-family='"Liberation Sans", Arial, sans-serif' fill="#000" style="letter-spacing:-7.30px">SmC</text>
<text transform="translate(1318.50,724.81) scale(1.2747,1)" font-size="49.00" font-family='"Liberation Sans", Arial, sans-serif' fill="#000">*</text>
<text transform="translate(1337.66,742.00) scale(1.2219,1)" font-size="58.14" font-family='"Liberation Sans", Arial, sans-serif' fill="#000">A</text>
<text transform="translate(1375.57,731.76) scale(1.2621,1)" font-size="56.60" font-family='"Liberation Sans", Arial, sans-serif' fill="#000">,</text>
<text transform="translate(1407.98,730.80) scale(1.1500,1)" font-size="58.45" font-family='"Liberation Sans", Arial, sans-serif' fill="#000" style="letter-spacing:-6.66px">SmI</text>
<text transform="translate(1509.97,724.32) scale(1.3302,1)" font-size="48.43" font-family='"Liberation Sans", Arial, sans-serif' fill="#000">*</text>
<text transform="translate(1546.53,731.10) scale(1.2200,1)" font-size="55.95" font-family='"Liberation Sans", Arial, sans-serif' fill="#000" style="letter-spacing:-5.44px">phases</text>
<text transform="translate(1230.11,829.23) scale(1.2451,1)" font-size="61.39" font-family='"Liberation Sans", Arial, sans-serif' fill="#000">p</text>
<text transform="translate(1284.84,823.44) scale(1.3420,1)" font-size="48.76" font-family='"Liberation Sans", Arial, sans-serif' fill="#000" stroke="#000" stroke-width="3.90">=</text>
<text transform="translate(1337.15,828.77) scale(1.0545,1)" font-size="55.49" font-family='"Noto Serif CJK SC", "Liberation Serif", serif' fill="#000">λ</text>
<text transform="translate(1370.50,846.58) scale(1.1789,1)" font-size="42.41" font-family='"Liberation Sans", Arial, sans-serif' fill="#000">s</text>
<text transform="translate(1393.00,828.99) scale(1.1900,1)" font-size="61.36" font-family='"Liberation Sans", Arial, sans-serif' fill="#000">/</text>
<text transform="translate(1409.03,829.60) scale(1.2128,1)" font-size="62.08" font-family='"Liberation Sans", Arial, sans-serif' fill="#000">n</text>
<text transform="translate(1443.02,846.59) scale(1.1500,1)" font-size="41.06" font-family='"Liberation Sans", Arial, sans-serif' fill="#000" style="letter-spacing:0.18px">av</text>
<text transform="translate(1110.18,949.70) scale(1.1500,1)" font-size="96.99" font-family='"Liberation Sans", Arial, sans-serif' fill="#960000" style="letter-spacing:-11.65px">SmC</text>
<text transform="translate(1322.95,937.88) scale(1.2911,1)" font-size="80.06" font-family='"Liberation Sans", Arial, sans-serif' fill="#960000">*</text>
<text transform="translate(1355.75,974.70) scale(1.1846,1)" font-size="64.68" font-family='"Liberation Sans", Arial, sans-serif' fill="#960000">A</text>
<text transform="translate(391.00,993.93) rotate(-90) scale(1.1500,1)" font-size="97.13" font-family='"Liberation Sans", Arial, sans-serif' fill="#960000" style="letter-spacing:-12.31px">SmI</text>
<text transform="translate(379.57,826.61) rotate(-90) scale(1.3190,1)" font-size="80.91" font-family='"Liberation Sans", Arial, sans-serif' fill="#960000">*</text>
<text transform="translate(1892.00,1116.28) rotate(-90) scale(1.2200,1)" font-size="72.49" font-family='"Liberation Sans", Arial, sans-serif' fill="#960000" style="letter-spacing:-6.48px">subphases</text>
<text transform="translate(1892.00,739.74) rotate(-90) scale(1.2200,1)" font-size="72.49" font-family='"Liberation Sans", Arial, sans-serif' fill="#960000" style="letter-spacing:-5.13px">region</text>
</svg>
</body></html>
